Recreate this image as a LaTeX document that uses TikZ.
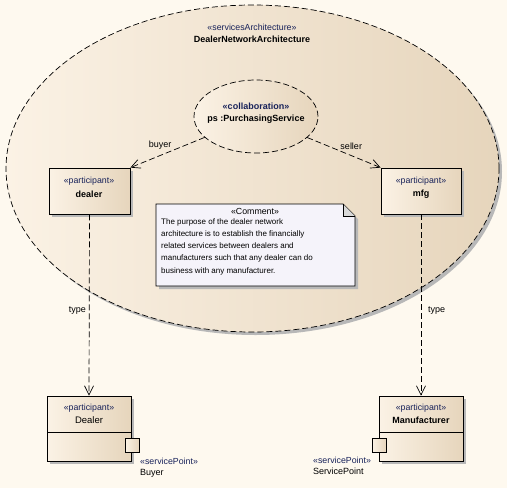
\documentclass[tikz,border=0pt]{standalone}
\usepackage{fontspec}
\setmainfont{Liberation Sans}
\usetikzlibrary{shapes.geometric,arrows.meta,shadows,calc}
\definecolor{bg}{HTML}{FEF9EF}
\definecolor{lightfill}{HTML}{FBF2E5}
\definecolor{darkfill}{HTML}{E6D5BC}
\definecolor{notefill}{HTML}{F5F3FA}
\definecolor{stereo}{HTML}{18225A}
\begin{document}
\begin{tikzpicture}[x=1pt,y=-1pt,
  shadowed/.style={drop shadow={shadow xshift=3pt,shadow yshift=-3pt,fill=black!28,opacity=1}},
  beige/.style={left color=lightfill,right color=darkfill},
  dashline/.style={draw=black,dash pattern=on 6pt off 3pt,line width=0.7pt},
  partbox/.style={draw=black,line width=0.8pt,beige,shadowed,rectangle,inner sep=0pt},
  stereotxt/.style={font=\fontsize{8.8}{10}\selectfont,text=stereo,inner sep=0pt},
  nametxt/.style={font=\fontsize{9}{10}\selectfont\bfseries,inner sep=0pt},
  lbl/.style={font=\fontsize{9}{10}\selectfont,inner sep=1pt},
  arr/.style={dashline,-{Straight Barb[length=9pt,width=9pt,line width=0.7pt]}},
  port/.style={draw=black,line width=0.8pt,beige,rectangle,minimum width=14pt,minimum height=14pt,inner sep=0pt}
]
\fill[bg] (0,0) rectangle (507,488);
\useasboundingbox (0,0) rectangle (507,488);

% big ellipse
\node[ellipse,dashline,beige,shadowed,minimum width=493pt,minimum height=327pt,inner sep=0pt] (arch) at (252.5,168.5) {};
\node[stereotxt] (archst) at (252,27) {«servicesArchitecture»};
\node[nametxt] (archnm) at (252,39) {DealerNetworkArchitecture};

% collaboration ellipse
\node[ellipse,dashline,beige,minimum width=124pt,minimum height=73pt,inner sep=0pt] (ps) at (256,116.5) {};
\node[stereotxt,font=\fontsize{9}{10}\selectfont\bfseries] (psst) at (256,106) {«collaboration»};
\node[nametxt] (psnm) at (256,119) {ps :PurchasingService};

% participants (parts)
\node[partbox,minimum width=81pt,minimum height=46pt] (dealer) at (89.5,191) {};
\node[stereotxt] at (89,181) {«participant»};
\node[nametxt] at (89,194) {dealer};

\node[partbox,minimum width=80pt,minimum height=46pt] (mfg) at (421,191) {};
\node[stereotxt] at (421,181) {«participant»};
\node[nametxt] at (421,194) {mfg};

% comment
\coordinate (c1) at (156,204);
\coordinate (c2) at (343,204);
\coordinate (c3) at (355,216);
\coordinate (c4) at (355,286);
\coordinate (c5) at (156,286);
\fill[black!28] ($(c1)+(3,3)$) -- ($(c2)+(3,3)$) -- ($(c3)+(3,3)$) -- ($(c4)+(3,3)$) -- ($(c5)+(3,3)$) -- cycle;
\filldraw[fill=notefill,draw=black,line width=0.8pt] (c1) -- (c2) -- (c3) -- (c4) -- (c5) -- cycle;
\draw[line width=0.8pt,fill=black!15] (c2) -- (343,216) -- (c3);
\node[font=\fontsize{8.8}{10}\selectfont,inner sep=0pt] (cmst) at (255,211) {«Comment»};
\node[font=\fontsize{8}{12.3}\selectfont,align=left,anchor=north west,inner sep=0pt] (cmtx) at (161,218)
 {The purpose of the dealer network\\architecture is to establish the financially\\related services between dealers and\\manufacturers such that any dealer can do\\business with any manufacturer.};

% classifiers
\node[partbox,minimum width=84pt,minimum height=65pt] (Dealer) at (89,428.5) {};
\draw[line width=0.8pt] (47,432) -- (131,432);
\node[stereotxt] at (89,408) {«participant»};
\node[font=\fontsize{9.5}{10}\selectfont,inner sep=0pt] at (89,420) {Dealer};
\node[port] (buyerport) at (132,445) {};
\node[stereotxt,anchor=west] at (140,461) {«servicePoint»};
\node[lbl,anchor=west,inner sep=0pt] at (140,473) {Buyer};

\node[partbox,minimum width=84pt,minimum height=65pt] (Manu) at (421,428.5) {};
\draw[line width=0.8pt] (379,432) -- (463,432);
\node[stereotxt] at (421,408) {«participant»};
\node[nametxt] at (421,420) {Manufacturer};
\node[port] (sport) at (379,445) {};
\node[stereotxt,anchor=west] at (313,460) {«servicePoint»};
\node[lbl,anchor=west,inner sep=0pt] at (313,471) {ServicePoint};

% connectors
\draw[arr] (ps) -- node[lbl,above=5pt,pos=0.6] {buyer} (dealer.north east);
\draw[arr] (ps) -- node[lbl,above=5pt,pos=0.6] {seller} (mfg.north west);
\draw[arr] (dealer.south) -- (Dealer.north);
\draw[arr] (mfg.south) -- (Manu.north);
\node[lbl,fill=bg,anchor=east] at (87,311) {type};
\node[lbl,fill=bg,anchor=west] at (427,311) {type};
\end{tikzpicture}
\end{document}
